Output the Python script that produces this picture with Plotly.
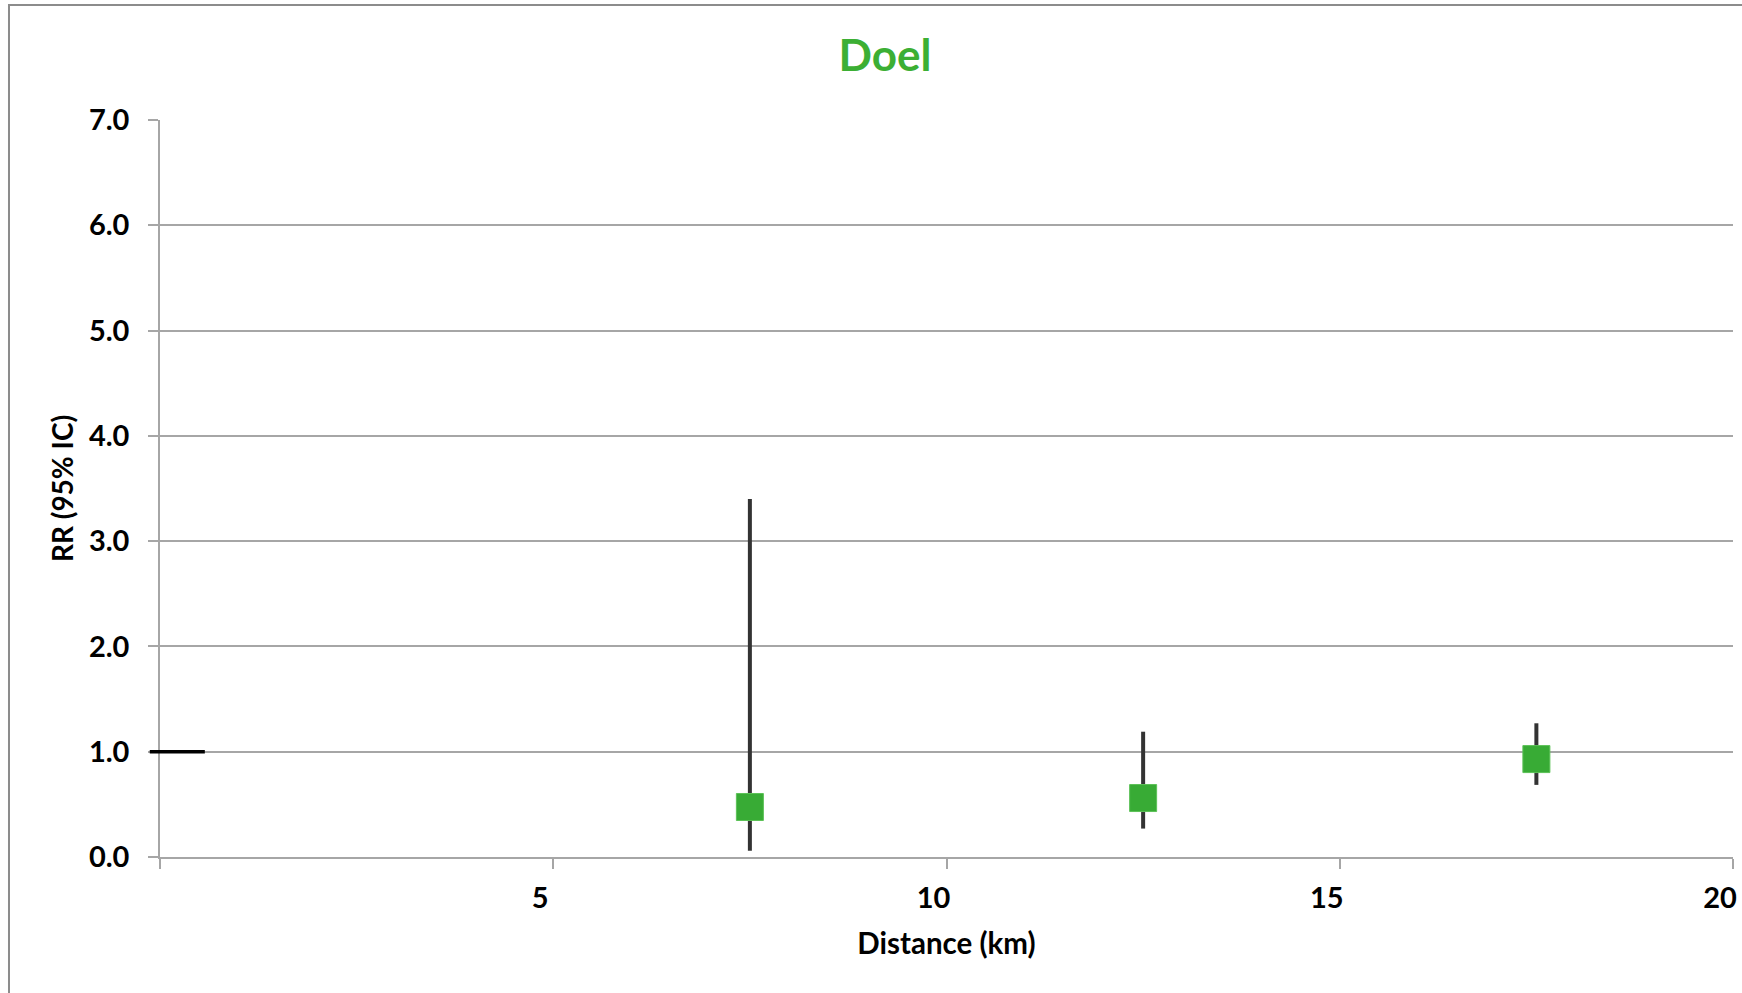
import plotly.graph_objects as go

# Data
distance_km = [7.5, 12.5, 17.5]
rr = [0.475, 0.56, 0.93]
ci_low = [0.06, 0.27, 0.685]
ci_high = [3.40, 1.19, 1.27]
ref_x = [-0.13, 0.57]
ref_y = [1.0, 1.0]
x_tickvals = [0, 5, 10, 15, 20]
x_ticktext = ["", "5", "10", "15", "20"]
y_tickvals = [0, 1, 2, 3, 4, 5, 6, 7]

X_MIN, X_MAX = 0, 20
Y_MIN, Y_MAX = 0, 7

green = "#38AB35"
grid = "#A6A6A6"
font_family = "Lato, 'Open Sans', Arial, sans-serif"

err_plus = [h - v for h, v in zip(ci_high, rr)]
err_minus = [v - l for v, l in zip(rr, ci_low)]

fig = go.Figure()
fig.add_trace(go.Scatter(
    x=distance_km, y=rr, mode="markers",
    marker=dict(symbol="square", size=27, color=green,
                line=dict(color="#5CC257", width=1)),
    error_y=dict(type="data", symmetric=False, array=err_plus, arrayminus=err_minus,
                 color="#333333", thickness=4, width=0),
    showlegend=False, cliponaxis=False, hoverinfo="skip",
))

# reference line at RR = 1 (paper x so it can extend past the axis)
fig.add_shape(type="line", xref="paper", yref="y",
              x0=(ref_x[0] - X_MIN) / (X_MAX - X_MIN), x1=(ref_x[1] - X_MIN) / (X_MAX - X_MIN),
              y0=ref_y[0], y1=ref_y[1],
              line=dict(color="#000000", width=3.5), layer="above")

# outer chart border
fig.add_shape(type="rect", xref="paper", yref="paper",
              x0=-0.096, x1=1.02, y0=-0.2, y1=(857 - 5) / 737,
              line=dict(color="#8C8C8C", width=2), fillcolor="rgba(0,0,0,0)", layer="below")

fig.update_layout(
    width=1742, height=993, autosize=False,
    margin=dict(l=160, r=9, t=120, b=136),
    paper_bgcolor="white", plot_bgcolor="white",
    font=dict(family=font_family, color="#000000"),
    title=dict(text="<b>Doel</b>", x=885 / 1742, xref="container", xanchor="center",
               y=1 - 56 / 993, yref="container", yanchor="middle",
               font=dict(size=44, color="#3CAF34", family=font_family)),
    xaxis=dict(range=[X_MIN, X_MAX], tickvals=x_tickvals, ticktext=x_ticktext,
               automargin=False,
               showgrid=False, zeroline=False, showline=True, linecolor=grid, linewidth=1.5,
               ticks="outside", ticklen=10, tickcolor=grid, tickwidth=1.5,
               tickfont=dict(size=29, family=font_family, weight="bold"), ticklabelstandoff=4,
               ticklabelshift=-13,
               title=dict(text="<b>Distance (km)</b>", font=dict(size=29.5, family=font_family),
                          standoff=21)),
    yaxis=dict(range=[Y_MIN, Y_MAX], tickvals=y_tickvals, tickformat=".1f",
               automargin=False,
               showgrid=True, gridcolor=grid, gridwidth=1.5, zeroline=False,
               showline=True, linecolor=grid, linewidth=1.5,
               ticks="outside", ticklen=10, tickcolor=grid, tickwidth=1.5,
               tickfont=dict(size=29, family=font_family, weight="bold"), ticklabelstandoff=13,
               title=dict(text="<b>RR (95% IC)</b>", font=dict(size=28, family=font_family),
                          standoff=7)),
)

fig.write_html("out.html",
               config={"responsive": False, "displayModeBar": False},
               post_script="document.body.style.margin='0';document.body.style.overflow='hidden';")
